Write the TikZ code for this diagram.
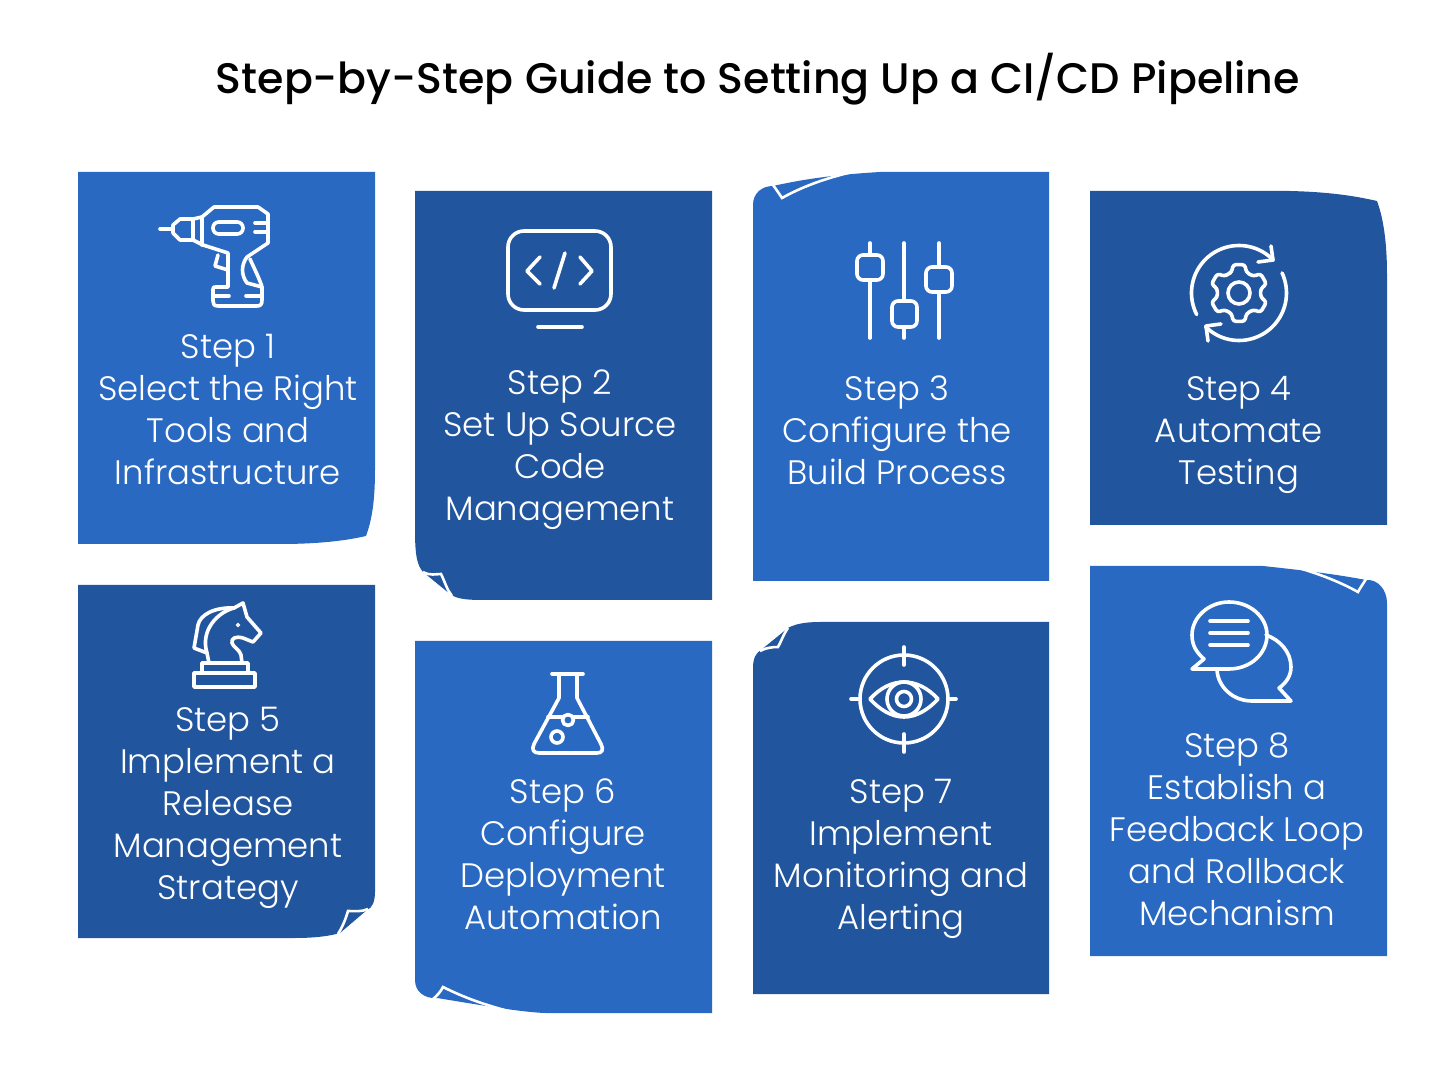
\documentclass[tikz,border=0pt]{standalone}
\usepackage{fontspec}
\setmainfont{Poppins}[UprightFont=* Light]
\newfontfamily\titlefont{Poppins}[UprightFont=* Medium]
\definecolor{lightcard}{RGB}{41,105,194}
\definecolor{darkcard}{RGB}{33,85,158}
\begin{document}
\begin{tikzpicture}
    [x=0.5pt,y=-0.5pt,
    light/.style={fill=lightcard},
    dark/.style={fill=darkcard},
    curl/.style={draw=white,line width=1.3pt,line join=miter},
    icon/.style={draw=white,line width=1.8pt,line cap=round,line join=round},
    steptext/.style={text=white,align=center,font=\fontsize{16.95}{21}\selectfont}]

    \useasboundingbox (0,0) rectangle (1431,1080);

    \node[font=\titlefont\fontsize{21.37}{26}\selectfont] (title) at (758,79) {Step-by-Step Guide to Setting Up a CI/CD Pipeline};

    % cards
    \fill[light] (78,172) -- (375,172) -- (375,470) .. controls (375,500) and (372,520) .. (366,536)
        .. controls (340,542) and (310,544) .. (280,544) -- (78,544) -- cycle;
    \fill[dark] (415,191) -- (712,191) -- (712,600) -- (490,600) .. controls (470,600) and (458,600) .. (450,594)
        -- (423,572) .. controls (417,565) and (415,555) .. (415,530) -- cycle;
    \fill[light] (753,581) -- (753,205) .. controls (753,193) and (762,186) .. (773,186)
        .. controls (800,180) and (830,175) .. (880,172) -- (1049,172) -- (1049,581) -- cycle;
    \fill[dark] (1090,191) -- (1290,191) .. controls (1330,192) and (1355,196) .. (1377,201)
        .. controls (1384,220) and (1387,245) .. (1387,275) -- (1387,525) -- (1090,525) -- cycle;
    \fill[dark] (78,585) -- (375,585) -- (375,892) .. controls (375,902) and (372,908) .. (367,910)
        -- (340,933) .. controls (330,936) and (315,938) .. (295,938) -- (78,938) -- cycle;
    \fill[light] (415,641) -- (712,641) -- (712,1013) -- (545,1013) .. controls (520,1012) and (480,1005) .. (437,998)
        .. controls (425,999) and (415,992) .. (415,980) -- cycle;
    \fill[dark] (753,994) -- (753,668) .. controls (753,658) and (756,653) .. (761,650) -- (788,628)
        .. controls (795,624) and (805,622) .. (820,622) -- (1049,622) -- (1049,994) -- cycle;
    \fill[light] (1090,566) -- (1263,566) .. controls (1300,570) and (1335,574) .. (1366,580)
        .. controls (1378,579) and (1387,590) .. (1387,603) -- (1387,956) -- (1090,956) -- cycle;

    % page curls
    \draw[curl] (423,572) .. controls (430,576) and (436,574) .. (441,574) .. controls (445,582) and (447,590) .. (452,596);
    \draw[curl] (773,185) .. controls (776,189) and (780,195) .. (782,198) .. controls (800,188) and (820,180) .. (848,173);
    \draw[curl] (368,909) .. controls (362,912) and (355,911) .. (348,911) .. controls (346,918) and (343,926) .. (338,934);
    \draw[curl] (433,999) .. controls (437,996) and (441,991) .. (443,987) .. controls (465,998) and (485,1005) .. (512,1012);
    \draw[curl] (788,628) .. controls (783,635) and (781,642) .. (778,647) .. controls (772,647) and (765,648) .. (760,651);
    \draw[curl] (1366,579) .. controls (1363,584) and (1360,588) .. (1358,592) .. controls (1340,582) and (1320,574) .. (1292,566);

    % drill
    \draw[icon] (160,229) -- (172,229);
    \draw[icon] (173,225) -- (180,219) -- (193,219) -- (202,217) -- (214,207) -- (258,207) -- (268,214) -- (268,243) -- (247,257)
        .. controls (241,265) and (241,275) .. (247,283) -- (262,287) -- (262,300) .. controls (262,304) and (261,306) .. (257,306)
        -- (218,306) .. controls (214,306) and (213,304) .. (213,301) -- (213,289) .. controls (213,287) and (214,287) .. (216,287)
        -- (228,287) -- (228,253) -- (203,245) -- (193,240) -- (180,240) -- (173,233) -- cycle;
    \draw[icon] (193,219) -- (193,240);
    \draw[icon] (202,217) -- (202,245);
    \draw[icon] (218,255) -- (215,266) -- (228,270);
    \draw[icon] (250,259) .. controls (255,270) and (260,280) .. (262,287);
    \draw[icon,rounded corners=2.9pt] (213,222) rectangle (243,234);
    \draw[icon] (255,223) -- (268,223);
    \draw[icon] (255,232) -- (268,232);
    \draw[icon] (213,296) -- (229,296);
    \draw[icon] (246,296) -- (262,296);

    % code screen
    \draw[icon,rounded corners=8pt] (508,231) rectangle (611,310);
    \draw[icon] (538,327) -- (582,327);
    \draw[icon] (540,257) -- (527,271) -- (540,284);
    \draw[icon] (565,253) -- (554,288);
    \draw[icon] (580,257) -- (592,271) -- (580,284);

    % sliders
    \draw[icon] (870,243) -- (870,255);
    \draw[icon] (870,280) -- (870,338);
    \draw[icon] (904,243) -- (904,301);
    \draw[icon] (904,327) -- (904,338);
    \draw[icon] (939,243) -- (939,267);
    \draw[icon] (939,292) -- (939,338);
    \draw[icon,rounded corners=3pt] (857,255) rectangle (883,280);
    \draw[icon,rounded corners=3pt] (892,301) rectangle (917,327);
    \draw[icon,rounded corners=3pt] (926,267) rectangle (952,292);

    % gear with arrows
    \draw[icon] (1239,293) circle [radius=11];
    \draw[icon,rounded corners=1.5pt] ({1239+22*cos(-120)},{293+22*sin(-120)})
        \foreach \a in {-90,-30,30,90,150,210} {
            -- ({1239+22*cos(\a-19)},{293+22*sin(\a-19)})
            -- ({1239+29*cos(\a-12)},{293+29*sin(\a-12)})
            -- ({1239+29*cos(\a+12)},{293+29*sin(\a+12)})
            -- ({1239+22*cos(\a+19)},{293+22*sin(\a+19)})
        } -- cycle;
    \draw[icon] plot[domain=153:316,samples=40] ({1239+47.5*cos(\x)},{293+47.5*sin(\x)});
    \draw[icon] plot[domain=-25:135,samples=40] ({1239+47.5*cos(\x)},{293+47.5*sin(\x)});
    \draw[icon] (1271,246) -- (1273,260) -- (1258,262);
    \draw[icon] (1208,341) -- (1206,326) -- (1221,324);

    % knight
    \draw[icon] (194,673) rectangle (255,687);
    \draw[icon] (202,663) rectangle (248,673);
    \draw[icon] (242,663) -- (241,655) .. controls (240,650) and (233,647) .. (232,643)
        .. controls (231,638) and (236,636) .. (243,638) -- (253,642) -- (261,633) -- (247,617) -- (243,603) -- (234,608)
        .. controls (214,607) and (200,615) .. (198,625) -- (194,648) -- (207,653) -- (209,663);
    \draw[icon] (234,608) .. controls (218,612) and (200,630) .. (207,653);
    \draw[draw=white,line width=.7pt] (238,625) circle [radius=1.5];

    % flask
    \draw[icon] (552,674) -- (583,674);
    \draw[icon] (559,674) -- (559,698) -- (534,744) .. controls (531,750) and (534,753) .. (539,753)
        -- (597,753) .. controls (602,753) and (604,750) .. (601,744) -- (577,698) -- (577,674);
    \draw[icon] (548,717) -- (562,717);
    \draw[icon] (574,717) -- (588,717);
    \draw[icon] (568,720) circle [radius=5.5];
    \draw[icon] (557,737) circle [radius=6];

    % eye in sight
    \draw[icon] (904,699) circle [radius=44];
    \draw[icon] (904,647) -- (904,665);
    \draw[icon] (904,734) -- (904,752);
    \draw[icon] (851,699) -- (860,699);
    \draw[icon] (948,699) -- (956,699);
    \draw[icon] (870,699) .. controls (880,688) and (892,682) .. (904,682) .. controls (916,682) and (928,688) .. (938,699)
        .. controls (928,710) and (916,717) .. (904,717) .. controls (892,717) and (880,710) .. (870,699) -- cycle;
    \draw[icon] (904,699) circle [radius=17];
    \draw[icon] (904,699) circle [radius=7.5];

    % speech bubbles
    \draw[icon] (1192,669) -- (1204,659) .. controls (1196,652) and (1192,645) .. (1192,635)
        .. controls (1192,617) and (1209,602) .. (1229,602) .. controls (1250,602) and (1267,617) .. (1267,635)
        .. controls (1267,654) and (1250,669) .. (1229,669) -- cycle;
    \draw[icon] (1210,621) -- (1248,621);
    \draw[icon] (1210,633) -- (1248,633);
    \draw[icon] (1210,645) -- (1248,645);
    \draw[icon] (1266,635) .. controls (1280,640) and (1291,652) .. (1291,667) .. controls (1291,676) and (1286,683) .. (1279,688)
        -- (1291,701) -- (1252,701) .. controls (1233,701) and (1218,687) .. (1217,670);

    % labels
    \node[steptext] (step1) at (228,410) {Step 1\\Select the Right\\Tools and\\Infrastructure};
    \node[steptext] (step2) at (560,450) {Step 2\\Set Up Source\\Code\\Management};
    \node[steptext] (step3) at (897,430) {Step 3\\Configure the\\Build Process};
    \node[steptext] (step4) at (1239,435) {Step 4\\Automate\\Testing};
    \node[steptext] (step5) at (228,808) {Step 5\\Implement a\\Release\\Management\\Strategy};
    \node[steptext] (step6) at (563,854) {Step 6\\Configure\\Deployment\\Automation};
    \node[steptext] (step7) at (901,859) {Step 7\\Implement\\Monitoring and\\Alerting};
    \node[steptext] (step8) at (1237,829) {Step 8\\Establish a\\Feedback Loop\\and Rollback\\Mechanism};
\end{tikzpicture}
\end{document}
